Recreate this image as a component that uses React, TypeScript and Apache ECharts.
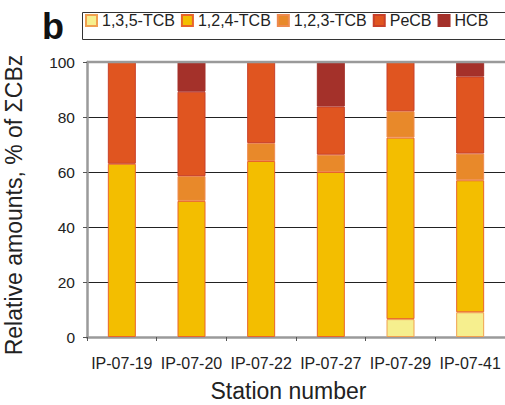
import React, { useEffect, useRef } from "react";
import * as echarts from "echarts";

const categories = ["IP-07-19", "IP-07-20", "IP-07-22", "IP-07-27", "IP-07-29", "IP-07-41"];
const seriesNames = ["1,3,5-TCB", "1,2,4-TCB", "1,2,3-TCB", "PeCB", "HCB"];
const tcb135 = [0, 0, 0, 0, 6.5, 9];
const tcb124 = [63, 49.5, 64, 60, 66, 48];
const tcb123 = [0, 9, 6.5, 6.3, 9.6, 9.7];
const pecb = [37, 30.7, 29.5, 17.5, 17.9, 28];
const hcb = [0, 10.8, 0, 16.2, 0, 5.3];

const colors = ["#F6EF8E", "#F3BE00", "#E8892A", "#E05520", "#A4312A"];
const borders = ["#F0A050", "#E8642A", "#EE8A50", "#C8402A", "#A4312A"];
const FONT = "'Liberation Sans', Arial, sans-serif";

export default function App() {
  const ref = useRef<HTMLDivElement>(null);
  useEffect(() => {
    document.body.style.margin = "0";
    const chart = echarts.init(ref.current!, undefined, { renderer: "svg" });
    const data = [tcb135, tcb124, tcb123, pecb, hcb];
    chart.setOption({
      animation: false,
      textStyle: { fontFamily: FONT },
      grid: { left: 87, right: 0, top: 62, bottom: 68 },
      legend: {
        left: 85,
        top: 12,
        width: 600,
        padding: 0,
        itemWidth: 11,
        itemHeight: 11,
        itemGap: 6,
        icon: "rect",
        textStyle: { fontSize: 16, color: "#222", fontFamily: FONT, lineHeight: 17 },
        data: seriesNames,
      },
      xAxis: {
        type: "category",
        data: categories,
        axisLine: { lineStyle: { color: "#9a9a9a", width: 2.5 } },
        axisTick: { show: true, length: 4, lineStyle: { color: "#555" } },
        axisLabel: { interval: 0, fontSize: 16, color: "#222", margin: 18, fontFamily: FONT },
      },
      yAxis: {
        type: "value",
        min: 0,
        max: 100,
        interval: 20,
        axisLine: { show: true, lineStyle: { color: "#9a9a9a", width: 2.5 } },
        axisTick: { show: true, length: 4, lineStyle: { color: "#555" } },
        axisLabel: { fontSize: 15.5, color: "#222", margin: 12, fontFamily: FONT },
        splitLine: { lineStyle: { color: ["#9a9a9a", "#222", "#222", "#222", "#222", "#9a9a9a"], width: 1 } },
      },
      graphic: [
        { type: "rect", shape: { x: 82.5, y: 12.5, width: 440, height: 27 }, style: { fill: "none", stroke: "#333", lineWidth: 1 }, z: 100 },
        { type: "line", shape: { x1: 87, y1: 62, x2: 505, y2: 62 }, style: { stroke: "#9a9a9a", lineWidth: 2.5 }, z: 100 },
        { type: "text", x: 42, y: 44, style: { text: "b", font: `bold 36px ${FONT}`, fill: "#111", textVerticalAlign: "bottom" } },
        {
          type: "text",
          x: 14,
          y: 205,
          rotation: Math.PI / 2,
          style: { text: "Relative amounts, % of ΣCBz", font: `23px ${FONT}`, fill: "#222", textAlign: "center", textVerticalAlign: "middle" },
        },
        {
          type: "text",
          x: 288.5,
          y: 391,
          style: { text: "Station number", font: `23px ${FONT}`, fill: "#222", textAlign: "center", textVerticalAlign: "middle" },
        },
      ],
      series: seriesNames.map((name, i) => ({
        name,
        type: "bar",
        stack: "total",
        barWidth: 28,
        itemStyle: { color: colors[i], borderColor: borders[i], borderWidth: 1 },
        data: data[i].map((v) => (v === 0 ? null : v)),
      })),
    });
    return () => chart.dispose();
  }, []);
  return <div ref={ref} style={{ width: 505, height: 405 }} />;
}
